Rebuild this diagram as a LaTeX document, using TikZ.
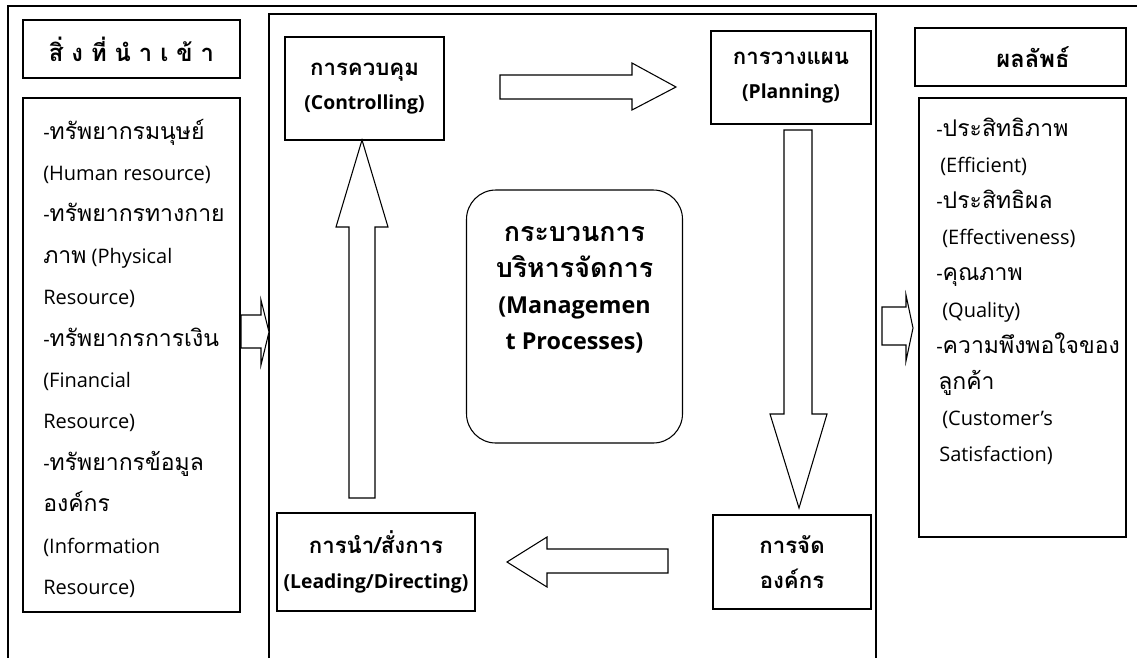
\documentclass[tikz,border=0pt]{standalone}
\usepackage{fontspec}
\setmainfont{Open Sans}
\newfontfamily\thf[Script=Thai,Scale=1.15]{Loma}
\newcommand\tha[1]{{\thf #1}}
\newdimen\pxu \pxu=0.75pt
\tikzset{
  box/.style={draw, line width=0.8pt, inner sep=0pt},
  frame/.style={line width=1.1pt},
  blockarrow/.style={draw, line width=0.8pt, line join=miter, fill=white},
  listtext/.style={anchor=base west, inner sep=0pt, font=\fontsize{15}{18}\selectfont},
  labeltext/.style={align=center, font=\bfseries\fontsize{14.5}{26}\selectfont},
  bigtext/.style={align=center, inner sep=0pt, font=\bfseries\fontsize{17.5}{27}\selectfont},
}
\begin{document}
\begin{tikzpicture}[x=0.75pt,y=-0.75pt]
\useasboundingbox (0,0) rectangle (1137,658);
% outer frame
\coordinate (otl) at (8,6);
\coordinate (otr) at (1137,6);
\coordinate (obl) at (8,658);
\draw[line width=1.8pt] (7.4,6) -- (otr);
\draw[frame] (otl) -- (obl);
% middle frame
\coordinate (mtl) at (269,14);
\coordinate (mtr) at (876,14);
\coordinate (mbl) at (269,658);
\coordinate (mbr) at (876,658);
\draw[frame] (mbl) -- (mtl) -- (mtr) -- (mbr);

% left column
\node[box, minimum width=217\pxu, minimum height=58\pxu, font=\bfseries\fontsize{15.5}{20}\selectfont] (inT) at (131.5,49) {\tha{สิ่ ง ที่ นํ า เ ข้ า}};
\node[box, minimum width=217\pxu, minimum height=514\pxu] (inL) at (131.5,355) {};
\foreach \t [count=\i from 0] in {
  {-\tha{ทรัพยากรมนุษย์}},
  {(Human resource)},
  {-\tha{ทรัพยากรทางกาย}},
  {\tha{ภาพ} (Physical},
  {Resource)},
  {-\tha{ทรัพยากรการเงิน}},
  {(Financial},
  {Resource)},
  {-\tha{ทรัพยากรข้อมูล}},
  {\tha{องค์กร}},
  {(Information},
  {Resource)}}
  \node[listtext] (inl\i) at (43,139+41.4*\i) {\t};

% right column
\node[box, minimum width=211\pxu, minimum height=58\pxu, font=\bfseries\fontsize{15.5}{18}\selectfont] (outT) at (1020.5,57) {\hspace*{25\pxu}\tha{ผลลัพธ์}};
\node[box, minimum width=207\pxu, minimum height=439\pxu] (outL) at (1022.5,317.5) {};
\foreach \t/\dx [count=\i from 0] in {
  {-\tha{ประสิทธิภาพ}}/0,
  {(Efficient)}/4,
  {-\tha{ประสิทธิผล}}/0,
  {(Effectiveness)}/6,
  {-\tha{คุณภาพ}}/0,
  {(Quality)}/6,
  {-\tha{ความพึงพอใจของ}}/0,
  {\tha{ลูกค้า}}/2,
  {(Customer’s}/6,
  {Satisfaction)}/3}
  \node[listtext] (outl\i) at (936+\dx,136+36.2*\i) {\t};

% process boxes
\node[box, labeltext, minimum width=159\pxu, minimum height=103\pxu] (ctrl) at (364.5,88.5) {\tha{การควบคุม}\\(Controlling)};
\node[box, labeltext, minimum width=160\pxu, minimum height=93\pxu] (plan) at (791,77.5) {\tha{การวางแผน}\\(Planning)};
\node[box, labeltext, minimum width=158\pxu, minimum height=94\pxu] (org) at (792,562) {\tha{การจัด}\\\tha{องค์กร}};
\node[box, labeltext, minimum width=198\pxu, minimum height=98\pxu] (lead) at (376,562) {\tha{การนำ/สั่งการ}\\(Leading/Directing)};
\node[draw, line width=0.8pt, rounded corners=22pt, minimum width=216\pxu, minimum height=253\pxu] (proc) at (574.5,316.5) {};
\node[bigtext] (proct) at (574.5,290) {\tha{กระบวนการ}\\\tha{บริหารจัดการ}\\(Managemen\\t Processes)};

% block arrows
% input -> process frame
\draw[blockarrow] (241,315) -- (261,315) -- (261,300) -- (269,332) -- (261,365) -- (261,348) -- (241,348) -- cycle;
% process frame -> output
\draw[blockarrow] (882,307) -- (906,307) -- (906,295) -- (913,328) -- (906,361) -- (906,345) -- (882,345) -- cycle;
% controlling -> planning
\draw[blockarrow] (500,75) -- (632,75) -- (632,63) -- (676,87) -- (632,110) -- (632,99) -- (500,99) -- cycle;
% planning -> organizing
\draw[blockarrow] (784,130) -- (812,130) -- (812,414) -- (827,414) -- (799,508) -- (770,414) -- (784,414) -- cycle;
% organizing -> leading
\draw[blockarrow] (668,549) -- (668,573) -- (547,573) -- (547,587) -- (507,562) -- (547,537) -- (547,549) -- cycle;
% leading -> controlling
\draw[blockarrow] (349,498) -- (375,498) -- (375,227) -- (388,227) -- (362,140) -- (336,227) -- (349,227) -- cycle;
\end{tikzpicture}
\end{document}
